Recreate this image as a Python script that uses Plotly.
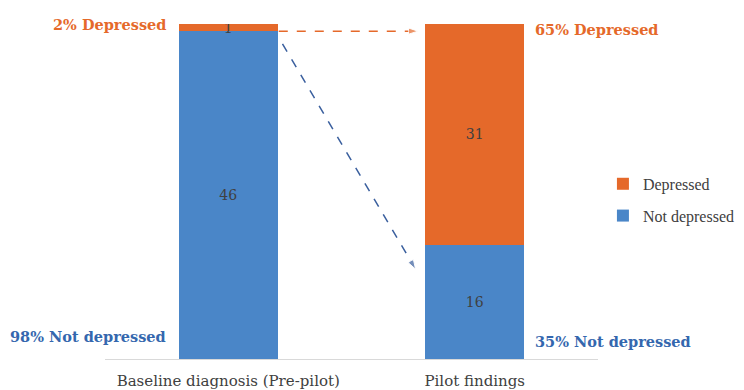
import plotly.graph_objects as go

categories = ["Baseline diagnosis (Pre-pilot)", "Pilot findings"]
not_depressed = [46, 16]
depressed = [1, 31]
left_labels = ["2% Depressed", "98% Not depressed"]
right_labels = ["65% Depressed", "35% Not depressed"]

ORANGE = "#E5692A"
BLUE = "#4A86C8"
BLUE_TXT = "#3467AE"
SERIF = "DejaVu Serif, serif"
SERIF2 = "Liberation Serif, Times New Roman, serif"
pos = list(range(len(categories)))

fig = go.Figure()
fig.add_trace(go.Bar(x=pos, y=not_depressed, name="Not depressed", width=0.4,
                     legendgroup="b", legendrank=2,
                     marker=dict(color=BLUE, line=dict(width=0)),
                     text=not_depressed, textposition="inside", insidetextanchor="middle", textangle=0,
                     insidetextfont=dict(color="#404040", size=14, family=SERIF)))
fig.add_trace(go.Bar(x=pos, y=depressed, name="Depressed", width=0.4,
                     legendgroup="a", legendrank=1,
                     marker=dict(color=ORANGE, line=dict(width=0)),
                     text=depressed, textposition="inside", insidetextanchor="middle", textangle=0,
                     insidetextfont=dict(color="#404040", size=14, family=SERIF)))

# dashed arrows
fig.add_trace(go.Scatter(x=[0.205, 0.77], y=[46.0, 46.0], mode="lines+markers",
                         line=dict(color=ORANGE, width=1.5, dash="dash"),
                         marker=dict(symbol=["circle", "arrow"], size=[0, 10], angleref="previous", color=ORANGE),
                         showlegend=False, hoverinfo="skip"))
fig.add_trace(go.Scatter(x=[0.22, 0.76], y=[44.2, 12.6], mode="lines+markers",
                         line=dict(color="#3A5F9E", width=1.5, dash="dash"),
                         marker=dict(symbol=["circle", "arrow"], size=[0, 10], angleref="previous", color="#3A5F9E"),
                         showlegend=False, hoverinfo="skip"))

font_b = dict(family=SERIF, size=14.5, color=ORANGE)
ann = [
    dict(x=-0.245, y=46.9, text="<b>%s</b>" % left_labels[0], xanchor="right", font=dict(font_b)),
    dict(x=-0.245, y=3.2, text="<b>%s</b>" % left_labels[1], xanchor="right", font=dict(font_b, color=BLUE_TXT)),
    dict(x=1.237, y=46.2, text="<b>%s</b>" % right_labels[0], xanchor="left", font=dict(font_b)),
    dict(x=1.237, y=2.5, text="<b>%s</b>" % right_labels[1], xanchor="left", font=dict(font_b, color=BLUE_TXT)),
]
for a in ann:
    fig.add_annotation(xref="x", yref="y", showarrow=False, yanchor="middle", **a)

fig.update_layout(
    width=744, height=390,
    margin=dict(l=105, r=146, t=24, b=31, autoexpand=False),
    barmode="stack",
    plot_bgcolor="white", paper_bgcolor="white",
    uniformtext=dict(minsize=14, mode="show"),
    legend=dict(x=1.01, y=0.475, xanchor="left", yanchor="middle",
                font=dict(family=SERIF2, size=16, color="#404040"),
                traceorder="grouped", itemwidth=30, tracegroupgap=8,
                bgcolor="rgba(0,0,0,0)"),
    xaxis=dict(showline=True, linecolor="#D9D9D9", linewidth=1,
               tickmode="array", tickvals=pos, ticktext=categories,
               tickfont=dict(family=SERIF, size=15, color="#404040"),
               ticks="", ticklabelstandoff=8, range=[-0.5, 1.5], automargin=False,
               showgrid=False, zeroline=False),
    yaxis=dict(visible=False, range=[0, 47]),
    showlegend=True,
)

fig.write_html("out.html")
